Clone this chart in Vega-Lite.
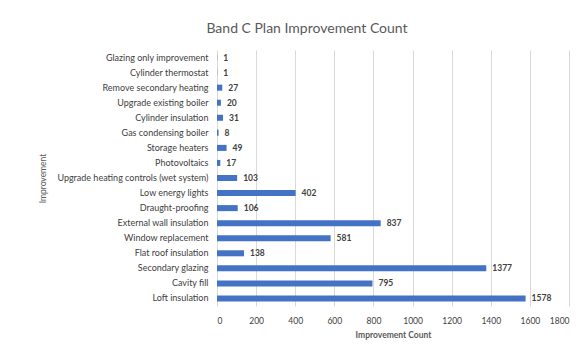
{
  "$schema": "https://vega.github.io/schema/vega-lite/v6.json",
  "autosize": {"type": "none"},
  "width": 352,
  "height": 256,
  "padding": {"left": 217, "top": 50, "right": 11, "bottom": 44},
  "background": "white",
  "title": {
    "text": "Band C Plan Improvement Count",
    "font": "Lato",
    "fontSize": 14,
    "fontWeight": "normal",
    "color": "#595959",
    "anchor": "middle",
    "dx": -86,
    "offset": 14
  },
  "data": {
    "values": [
      {"improvement": "Glazing only improvement", "count": 1},
      {"improvement": "Cylinder thermostat", "count": 1},
      {"improvement": "Remove secondary heating", "count": 27},
      {"improvement": "Upgrade existing boiler", "count": 20},
      {"improvement": "Cylinder insulation", "count": 31},
      {"improvement": "Gas condensing boiler", "count": 8},
      {"improvement": "Storage heaters", "count": 49},
      {"improvement": "Photovoltaics", "count": 17},
      {"improvement": "Upgrade heating controls (wet system)", "count": 103},
      {"improvement": "Low energy lights", "count": 402},
      {"improvement": "Draught-proofing", "count": 106},
      {"improvement": "External wall insulation", "count": 837},
      {"improvement": "Window replacement", "count": 581},
      {"improvement": "Flat roof insulation", "count": 138},
      {"improvement": "Secondary glazing", "count": 1377},
      {"improvement": "Cavity fill", "count": 795},
      {"improvement": "Loft insulation", "count": 1578}
    ]
  },
  "encoding": {
    "y": {
      "field": "improvement",
      "type": "nominal",
      "sort": null,
      "title": "Improvement",
      "scale": {"paddingInner": 0.6, "paddingOuter": 0.3},
      "axis": {
        "ticks": false,
        "domain": false,
        "labelPadding": 9,
        "labelFont": "Lato",
        "labelFontSize": 9,
        "labelColor": "#404040",
        "titleFont": "Lato",
        "titleFontSize": 8.5,
        "titleFontWeight": "normal",
        "titleColor": "#595959",
        "titleX": -170
      }
    },
    "x": {
      "field": "count",
      "type": "quantitative",
      "title": "Improvement Count",
      "scale": {"domain": [0, 1800], "nice": false},
      "axis": {
        "values": [0, 200, 400, 600, 800, 1000, 1200, 1400, 1600, 1800],
        "format": "d",
        "ticks": false,
        "domain": false,
        "grid": true,
        "gridColor": "#d9d9d9",
        "gridWidth": 1,
        "labelPadding": 10,
        "labelFont": "Lato",
        "labelFontSize": 8.5,
        "labelColor": "#404040",
        "titleFont": "Lato",
        "titleFontSize": 8.5,
        "titleFontWeight": "bold",
        "titleColor": "#595959",
        "titlePadding": 6
      }
    }
  },
  "layer": [
    {"mark": {"type": "bar", "color": "#4472C4"}},
    {
      "mark": {"type": "text", "align": "left", "dx": 6, "font": "Lato", "fontSize": 8.5, "fontWeight": "bold", "color": "#404040"},
      "encoding": {"text": {"field": "count", "type": "quantitative"}}
    }
  ],
  "config": {"view": {"stroke": null}}
}
